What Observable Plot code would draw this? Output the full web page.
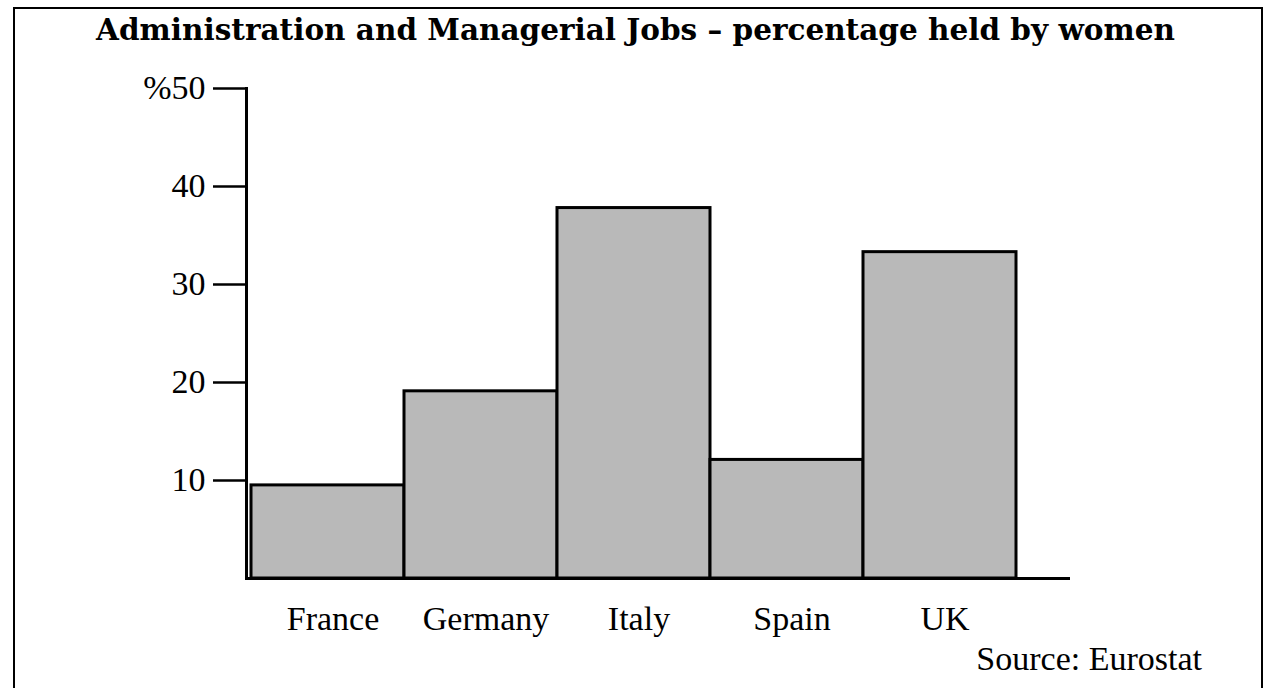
<!DOCTYPE html>
<html>
<head>
<meta charset="utf-8">
<script src="https://cdn.jsdelivr.net/npm/d3@7"></script>
<script src="https://cdn.jsdelivr.net/npm/@observablehq/plot@0.6"></script>
<style>
  html, body { margin: 0; padding: 0; background: #fff; }
  #wrap { position: relative; width: 1271px; height: 688px; overflow: hidden; background: #fff; }
  #border { position: absolute; left: 13px; top: 7px; width: 1250px; height: 700px; border: 2.5px solid #000; box-sizing: border-box; }
  #title { position: absolute; left: 0; width: 1271px; top: 12px; text-align: center; font-family: "DejaVu Serif", serif; font-weight: bold; font-size: 29.5px; color: #000; }
  #chart { position: absolute; left: 0; top: 0; }
  #source { position: absolute; right: 69px; top: 640px; font-family: "Liberation Serif", serif; font-size: 34px; color: #000; }
</style>
</head>
<body>
<div id="wrap">
  <div id="border"></div>
  <div id="chart"></div>
  <div id="title">Administration and Managerial Jobs – percentage held by women</div>
  <div id="source">Source: Eurostat</div>
</div>
<script>
const countries = ["France", "Germany", "Italy", "Spain", "UK"];
const percentages = [9.5, 19.1, 37.8, 12.1, 33.3];
const yTicks = [10, 20, 30, 40, 50];
const yTickLabels = ["10", "20", "30", "40", "%50"];

const data = countries.map((c, i) => ({country: c, value: percentages[i]}));

const chart = Plot.plot({
  width: 1271,
  height: 688,
  marginTop: 88,
  marginBottom: 110,
  marginLeft: 246,
  marginRight: 201,
  style: {fontFamily: "'Liberation Serif', serif", fontSize: "34px", color: "#000", background: "transparent"},
  x: {domain: countries, range: [250, 1017], padding: 0, label: null},
  y: {domain: [0, 50], label: null},
  marks: [
    Plot.barY(data, {x: "country", y: "value", fill: "#b9b9b9", stroke: "#000", strokeWidth: 3, inset: 0}),
    Plot.frame({anchor: "left", stroke: "#000", strokeWidth: 3}),
    Plot.ruleY([0], {stroke: "#000", strokeWidth: 3}),
    Plot.axisY({ticks: yTicks, tickSize: 33, tickPadding: 8, strokeWidth: 2.5,
      tickFormat: d => yTickLabels[yTicks.indexOf(d)], fontSize: 34, label: null}),
    Plot.axisX({tickSize: 0, tickPadding: 27, fontSize: 34, dx: 5, label: null})
  ]
});
document.getElementById("chart").appendChild(chart);
</script>
</body>
</html>
